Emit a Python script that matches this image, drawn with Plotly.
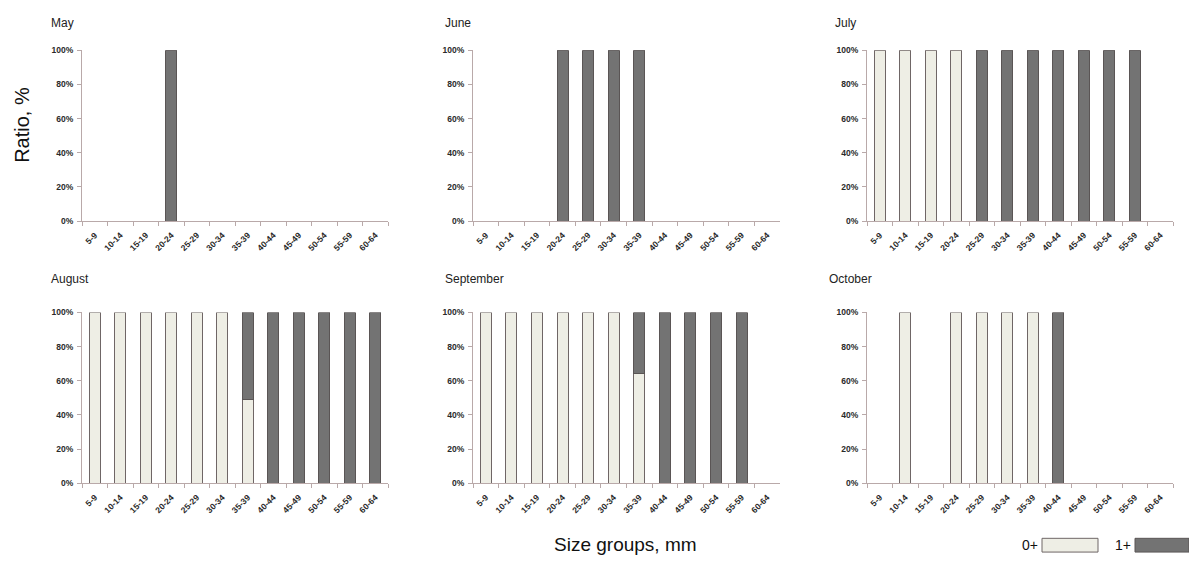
import plotly.graph_objects as go

W, H = 1189, 561

categories = ['5-9', '10-14', '15-19', '20-24', '25-29', '30-34',
              '35-39', '40-44', '45-49', '50-54', '55-59', '60-64']
months = ['May', 'June', 'July', 'August', 'September', 'October']

may_0 = [0, 0, 0, 0, 0, 0, 0, 0, 0, 0, 0, 0]
may_1 = [0, 0, 0, 100, 0, 0, 0, 0, 0, 0, 0, 0]
june_0 = [0, 0, 0, 0, 0, 0, 0, 0, 0, 0, 0, 0]
june_1 = [0, 0, 0, 100, 100, 100, 100, 0, 0, 0, 0, 0]
july_0 = [100, 100, 100, 100, 0, 0, 0, 0, 0, 0, 0, 0]
july_1 = [0, 0, 0, 0, 100, 100, 100, 100, 100, 100, 100, 0]
aug_0 = [100, 100, 100, 100, 100, 100, 49, 0, 0, 0, 0, 0]
aug_1 = [0, 0, 0, 0, 0, 0, 51, 100, 100, 100, 100, 100]
sep_0 = [100, 100, 100, 100, 100, 100, 64, 0, 0, 0, 0, 0]
sep_1 = [0, 0, 0, 0, 0, 0, 36, 100, 100, 100, 100, 0]
oct_0 = [0, 100, 0, 100, 100, 100, 100, 0, 0, 0, 0, 0]
oct_1 = [0, 0, 0, 0, 0, 0, 0, 100, 0, 0, 0, 0]

series_0 = [may_0, june_0, july_0, aug_0, sep_0, oct_0]
series_1 = [may_1, june_1, july_1, aug_1, sep_1, oct_1]

yticks = [0, 20, 40, 60, 80, 100]
ytick_labels = ['0%', '20%', '40%', '60%', '80%', '100%']

C0_FILL = '#eeeee5'
C0_LINE = '#6f6666'
C1_FILL = '#737373'
C1_LINE = '#5a5555'
AXIS_C = '#b9a9a9'
TXT = '#2a2a2a'
FONT = 'Liberation Sans, Arial, sans-serif'

# panel pixel boxes (left, right, top(100%), bottom(0%))
col_px = [(82, 388), (473, 780), (867, 1173)]
row_px = [(46, 220), (313, 487)]
title_px = [(49, 18), (443, 18), (833, 18), (49, 279), (443, 279), (827, 279)]

def nz(v):
    return [x if x else None for x in v]

fig = go.Figure()
annotations = []
for i, m in enumerate(months):
    r, c = divmod(i, 3)
    ax = '' if i == 0 else str(i + 1)
    xa, ya = 'x' + ax, 'y' + ax
    fig.add_trace(go.Bar(x=categories, y=nz(series_0[i]), name='0+',
                         marker=dict(color=C0_FILL, line=dict(color=C0_LINE, width=1)),
                         xaxis=xa, yaxis=ya, showlegend=False))
    fig.add_trace(go.Bar(x=categories, y=nz(series_1[i]), name='1+',
                         marker=dict(color=C1_FILL, line=dict(color=C1_LINE, width=1)),
                         xaxis=xa, yaxis=ya, showlegend=False))
    l, rr = col_px[c]
    t, b = row_px[r]
    xkey = 'xaxis' + ax
    ykey = 'yaxis' + ax
    fig.layout[xkey] = dict(
        domain=[l / W, rr / W], anchor=ya, type='category',
        categoryorder='array', categoryarray=categories,
        range=[-0.5, 11.5],
        showline=True, linecolor=AXIS_C, linewidth=1,
        ticks='outside', tickson='boundaries', ticklen=4, tickcolor=AXIS_C,
        ticklabelstandoff=5,
        tickangle=-45, tickfont=dict(family=FONT, size=8.5, color=TXT, weight='bold'),
        showgrid=False, zeroline=False, fixedrange=True)
    fig.layout[ykey] = dict(
        domain=[1 - b / H, 1 - t / H], anchor=xa,
        range=[0, 100], tickmode='array', tickvals=yticks, ticktext=ytick_labels,
        showline=True, linecolor=AXIS_C, linewidth=1,
        ticks='outside', ticklen=4, tickcolor=AXIS_C, ticklabelstandoff=2,
        tickfont=dict(family=FONT, size=8.5, color=TXT, weight='bold'),
        showgrid=False, zeroline=False, fixedrange=True)
    tx, ty = title_px[i]
    annotations.append(dict(text=m, x=tx / W, y=1 - ty / H, xref='paper', yref='paper',
                            xanchor='left', yanchor='middle', showarrow=False,
                            font=dict(family=FONT, size=12, color='#222222')))

annotations.append(dict(text='Ratio, %', x=22 / W, y=1 - 122 / H, xref='paper', yref='paper',
                        textangle=-90, showarrow=False, xanchor='center', yanchor='middle',
                        font=dict(family=FONT, size=20, color='#111111')))
annotations.append(dict(text='Size groups, mm', x=625 / W, y=1 - 549 / H, xref='paper', yref='paper',
                        showarrow=False, xanchor='center', yanchor='middle',
                        font=dict(family=FONT, size=19, color='#111111')))
annotations.append(dict(text='0+', x=1040 / W, y=1 - 550 / H, xref='paper', yref='paper',
                        showarrow=False, xanchor='right', yanchor='middle',
                        font=dict(family=FONT, size=14, color='#111111')))
annotations.append(dict(text='1+', x=1133 / W, y=1 - 550 / H, xref='paper', yref='paper',
                        showarrow=False, xanchor='right', yanchor='middle',
                        font=dict(family=FONT, size=14, color='#111111')))

shapes = [
    dict(type='rect', xref='paper', yref='paper', x0=1042 / W, x1=1098 / W,
         y0=1 - 557 / H, y1=1 - 543 / H, fillcolor=C0_FILL, line=dict(color=C0_LINE, width=1)),
    dict(type='rect', xref='paper', yref='paper', x0=1135 / W, x1=1189 / W,
         y0=1 - 557 / H, y1=1 - 543 / H, fillcolor=C1_FILL, line=dict(color=C1_LINE, width=1)),
]

fig.update_layout(width=W, height=H, margin=dict(l=0, r=0, t=0, b=0),
                  barmode='stack', bargap=0.57,
                  paper_bgcolor='white', plot_bgcolor='white',
                  annotations=annotations, shapes=shapes, showlegend=False)

fig.write_html('out.html', config={'displayModeBar': False},
               post_script="document.body.style.margin='0';document.body.style.padding='0';"
                           "document.documentElement.style.overflow='hidden';")
